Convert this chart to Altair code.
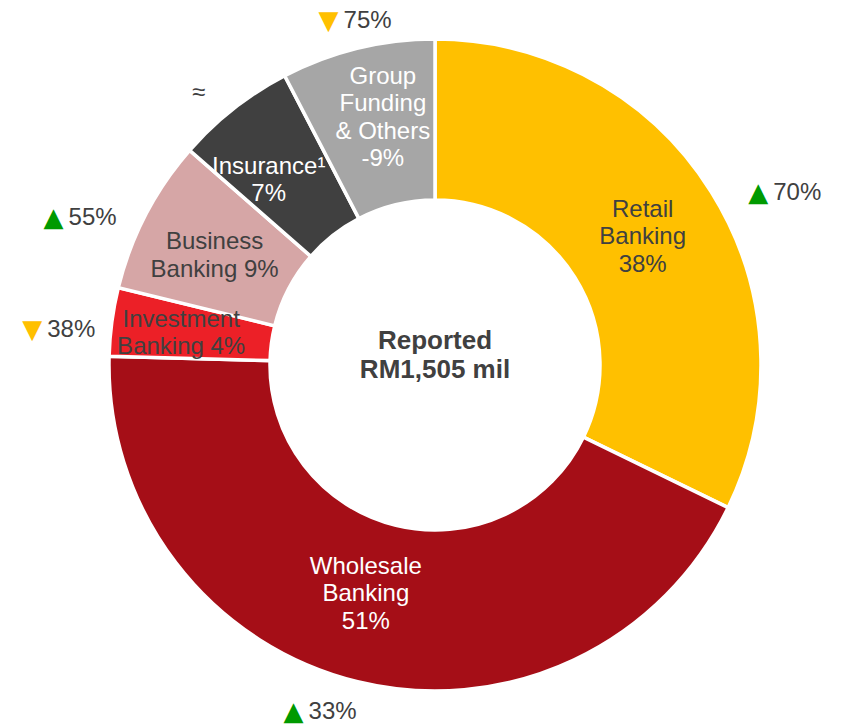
import altair as alt
import pandas as pd

# ---- data ----
segments = ["Retail Banking", "Wholesale Banking", "Investment Banking",
            "Business Banking", "Insurance", "Group Funding & Others"]
labels = ["Retail\nBanking\n38%", "Wholesale\nBanking\n51%", "Investment\nBanking 4%",
          "Business\nBanking 9%", "Insurance\u00b9\n7%", "Group\nFunding\n& Others\n-9%"]
shares = [38, 51, 4, 9, 7, -9]
arrows = ["\u25b2", "\u25b2", "\u25bc", "\u25b2", "\u2248", "\u25bc"]
directions = ["up", "up", "down", "up", "flat", "down"]
changes = ["70%", "33%", "38%", "55%", "", "75%"]
center_title = "Reported\nRM1,505 mil"

# ---- styling ----
slice_colors = ["#FFC000", "#A50E17", "#EC2027", "#D6A6A6", "#404040", "#A6A6A6"]
white_text = ["Wholesale Banking", "Insurance", "Group Funding & Others"]
dir_colors = {"up": "#009A00", "down": "#FFC000", "flat": "#404040"}
TXT = "#404040"
FONT = "Liberation Sans"
CX, CY = 427, 357
LH = 27.5
# small placement nudges for labels (dx, dy) and annotations (dx, dy)
label_nudge = [(0, 2), (-11, -9), (-11, 1), (-3, 4), (-15, 8), (6, -9)]
annot_nudge = [(30, 19), (-44, -3), (-34, 13), (-50, 19), (-14, 11), (-9, 6)]

df = pd.DataFrame({
    "idx": list(range(len(segments))),
    "segment": segments,
    "label": labels,
    "share": shares,
    "size": [abs(s) for s in shares],
    "arrow": arrows,
    "direction": directions,
    "change": changes,
})

base = alt.Chart(df)
theta = alt.Theta("size:Q", stack=True)
order = alt.Order("idx:Q")
xc, yc = alt.value(CX), alt.value(CY)

arcs = base.mark_arc(innerRadius=165, outerRadius=326, stroke="white", strokeWidth=3.5).encode(
    theta=theta, order=order, x=xc, y=yc,
    color=alt.Color("segment:N", scale=alt.Scale(domain=segments, range=slice_colors), legend=None),
)

layers = [arcs]
for i in range(len(segments)):
    ldx, ldy = label_nudge[i]
    nlines = labels[i].count("\n") + 1
    layers.append(
        base.mark_text(radius=245, dx=ldx, dy=ldy - (nlines - 1) * LH / 2, font=FONT,
                       fontSize=24, lineBreak="\n", lineHeight=LH, align="center",
                       baseline="middle").encode(
            theta=theta, order=order, x=xc, y=yc,
            text=alt.condition(f"datum.idx == {i}", "label:N", alt.value("")),
            color=alt.condition(alt.FieldOneOfPredicate(field="segment", oneOf=white_text),
                                alt.value("white"), alt.value(TXT)),
        )
    )
    adx, ady = annot_nudge[i]
    has_change = changes[i] != ""
    layers.append(
        base.mark_text(radius=360, dx=(adx - 2) if has_change else adx, dy=ady,
                       font="DejaVu Sans" if has_change else FONT,
                       fontSize=26 if has_change else 24,
                       align="right" if has_change else "center",
                       baseline="middle", color=dir_colors[directions[i]]).encode(
            theta=theta, order=order, x=xc, y=yc,
            text=alt.condition(f"datum.idx == {i}", "arrow:N", alt.value("")),
        )
    )
    if has_change:
        layers.append(
            base.mark_text(radius=360, dx=adx + 3, dy=ady, font=FONT, fontSize=24,
                           align="left", baseline="middle", color=TXT).encode(
                theta=theta, order=order, x=xc, y=yc,
                text=alt.condition(f"datum.idx == {i}", "change:N", alt.value("")),
            )
        )

center = alt.Chart(pd.DataFrame({"t": [center_title]})).mark_text(
    font=FONT, fontSize=26, fontWeight="bold", lineBreak="\n", lineHeight=29,
    align="center", baseline="middle", color=TXT, dy=-10 - 29 / 2,
).encode(text="t:N", x=xc, y=yc)
layers.append(center)

chart = alt.layer(*layers).properties(
    width=829, height=716, padding=0, autosize=alt.AutoSizeParams(type="none"),
    background="white",
).configure_view(stroke=None)

chart.save("out.html", embed_options={"renderer": "svg", "actions": False})
